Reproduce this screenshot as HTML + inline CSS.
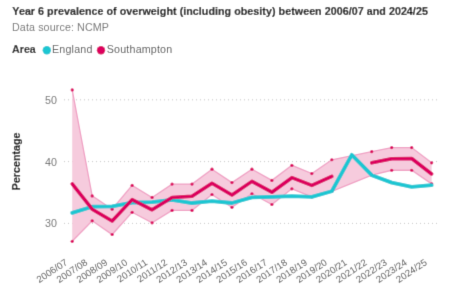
<!DOCTYPE html>
<html><head><meta charset="utf-8"><style>
html,body{margin:0;padding:0;background:#fff;width:449px;height:305px;overflow:hidden}
svg{display:block;font-family:'Liberation Sans', sans-serif}
</style></head><body>
<svg width="449" height="305" viewBox="0 0 449 305"><defs><filter id="bl" x="0" y="0" width="100%" height="100%" filterUnits="userSpaceOnUse"><feConvolveMatrix order="3" kernelMatrix="0 1 0 1 6 1 0 1 0" divisor="10" edgeMode="duplicate" preserveAlpha="true"/></filter></defs><g filter="url(#bl)"><rect width="449" height="305" fill="#fff"/>
<text x="12.3" y="15.1" font-size="10.7" font-weight="bold" fill="#1e1e1e" stroke="#1e1e1e" stroke-width="0.2" letter-spacing="0.05">Year 6 prevalence of overweight (including obesity) between 2006/07 and 2024/25</text>
<text x="12" y="30.8" font-size="10.7" fill="#737373" letter-spacing="0.12">Data source: NCMP</text>
<text x="12" y="52.7" font-size="10.7" font-weight="bold" fill="#262626" stroke="#262626" stroke-width="0.15">Area</text>
<circle cx="46.8" cy="50.3" r="4.2" fill="#1ac6d2"/>
<text x="52" y="52.7" font-size="10.7" fill="#595959" letter-spacing="0.2">England</text>
<circle cx="101" cy="50.2" r="4.2" fill="#dc005f"/>
<text x="106.8" y="52.7" font-size="10.7" fill="#595959" letter-spacing="0.18">Southampton</text>
<line x1="64" x2="438" y1="99.80" y2="99.80" stroke="#c4c4c4" stroke-width="1" stroke-dasharray="1,3"/>
<line x1="64" x2="438" y1="161.60" y2="161.60" stroke="#c4c4c4" stroke-width="1" stroke-dasharray="1,3"/>
<line x1="64" x2="438" y1="223.40" y2="223.40" stroke="#c4c4c4" stroke-width="1" stroke-dasharray="1,3"/>
<polygon points="72.20,89.91 92.17,195.90 112.14,209.19 132.11,185.39 152.08,197.44 172.05,184.10 192.02,184.10 211.99,169.20 231.96,182.61 251.93,169.20 271.90,180.39 291.87,165.31 311.84,173.59 331.81,159.75 371.75,151.71 391.72,147.57 411.69,147.57 431.66,162.84 431.66,183.85 411.69,170.25 391.72,170.25 371.75,175.20 331.81,191.26 311.84,196.83 291.87,188.79 271.90,204.49 251.93,193.74 231.96,207.33 211.99,194.60 192.02,210.42 172.05,210.42 152.08,222.78 132.11,212.28 112.14,234.52 92.17,220.80 72.20,241.32" fill="#f6cbdd" stroke="none"/>
<polyline points="72.20,89.91 92.17,195.90 112.14,209.19 132.11,185.39 152.08,197.44 172.05,184.10 192.02,184.10 211.99,169.20 231.96,182.61 251.93,169.20 271.90,180.39 291.87,165.31 311.84,173.59 331.81,159.75 371.75,151.71 391.72,147.57 411.69,147.57 431.66,162.84" fill="none" stroke="#f0a0c4" stroke-width="1.3"/>
<polyline points="431.66,183.85 411.69,170.25 391.72,170.25 371.75,175.20 331.81,191.26 311.84,196.83 291.87,188.79 271.90,204.49 251.93,193.74 231.96,207.33 211.99,194.60 192.02,210.42 172.05,210.42 152.08,222.78 132.11,212.28 112.14,234.52 92.17,220.80 72.20,241.32" fill="none" stroke="#f0a0c4" stroke-width="1.3"/>
<circle cx="72.20" cy="89.91" r="1.6" fill="#dc005f"/>
<circle cx="72.20" cy="241.32" r="1.6" fill="#dc005f"/>
<circle cx="92.17" cy="195.90" r="1.6" fill="#dc005f"/>
<circle cx="92.17" cy="220.80" r="1.6" fill="#dc005f"/>
<circle cx="112.14" cy="209.19" r="1.6" fill="#dc005f"/>
<circle cx="112.14" cy="234.52" r="1.6" fill="#dc005f"/>
<circle cx="132.11" cy="185.39" r="1.6" fill="#dc005f"/>
<circle cx="132.11" cy="212.28" r="1.6" fill="#dc005f"/>
<circle cx="152.08" cy="197.44" r="1.6" fill="#dc005f"/>
<circle cx="152.08" cy="222.78" r="1.6" fill="#dc005f"/>
<circle cx="172.05" cy="184.10" r="1.6" fill="#dc005f"/>
<circle cx="172.05" cy="210.42" r="1.6" fill="#dc005f"/>
<circle cx="192.02" cy="184.10" r="1.6" fill="#dc005f"/>
<circle cx="192.02" cy="210.42" r="1.6" fill="#dc005f"/>
<circle cx="211.99" cy="169.20" r="1.6" fill="#dc005f"/>
<circle cx="211.99" cy="194.60" r="1.6" fill="#dc005f"/>
<circle cx="231.96" cy="182.61" r="1.6" fill="#dc005f"/>
<circle cx="231.96" cy="207.33" r="1.6" fill="#dc005f"/>
<circle cx="251.93" cy="169.20" r="1.6" fill="#dc005f"/>
<circle cx="251.93" cy="193.74" r="1.6" fill="#dc005f"/>
<circle cx="271.90" cy="180.39" r="1.6" fill="#dc005f"/>
<circle cx="271.90" cy="204.49" r="1.6" fill="#dc005f"/>
<circle cx="291.87" cy="165.31" r="1.6" fill="#dc005f"/>
<circle cx="291.87" cy="188.79" r="1.6" fill="#dc005f"/>
<circle cx="311.84" cy="173.59" r="1.6" fill="#dc005f"/>
<circle cx="311.84" cy="196.83" r="1.6" fill="#dc005f"/>
<circle cx="331.81" cy="159.75" r="1.6" fill="#dc005f"/>
<circle cx="331.81" cy="191.26" r="1.6" fill="#dc005f"/>
<circle cx="371.75" cy="151.71" r="1.6" fill="#dc005f"/>
<circle cx="371.75" cy="175.20" r="1.6" fill="#dc005f"/>
<circle cx="391.72" cy="147.57" r="1.6" fill="#dc005f"/>
<circle cx="391.72" cy="170.25" r="1.6" fill="#dc005f"/>
<circle cx="411.69" cy="147.57" r="1.6" fill="#dc005f"/>
<circle cx="411.69" cy="170.25" r="1.6" fill="#dc005f"/>
<circle cx="431.66" cy="162.84" r="1.6" fill="#dc005f"/>
<circle cx="431.66" cy="183.85" r="1.6" fill="#dc005f"/>
<polyline points="72.20,212.89 92.17,206.71 112.14,206.41 132.11,202.70 152.08,202.08 172.05,199.92 192.02,203.01 211.99,201.15 231.96,203.01 251.93,197.44 271.90,196.83 291.87,196.21 311.84,196.83 331.81,191.26 351.78,154.80 371.75,175.20 391.72,182.61 411.69,186.94 431.66,185.08" fill="none" stroke="#1ac6d2" stroke-width="3.8" stroke-linejoin="round" stroke-linecap="round"/>
<polyline points="72.20,183.85 92.17,209.19 112.14,220.93 132.11,199.61 152.08,209.80 172.05,197.44 192.02,196.21 211.99,183.23 231.96,194.97 251.93,181.38 271.90,192.19 291.87,177.67 311.84,185.39 331.81,176.43" fill="none" stroke="#dc005f" stroke-width="3.6" stroke-linejoin="round" stroke-linecap="round"/>
<polyline points="371.75,162.84 391.72,158.82 411.69,158.51 431.66,173.96" fill="none" stroke="#dc005f" stroke-width="3.6" stroke-linejoin="round" stroke-linecap="round"/>
<text x="57" y="103.80" text-anchor="end" font-size="10.7" fill="#707070">50</text>
<text x="57" y="165.60" text-anchor="end" font-size="10.7" fill="#707070">40</text>
<text x="57" y="227.40" text-anchor="end" font-size="10.7" fill="#707070">30</text>
<text transform="translate(20,161.4) rotate(-90)" text-anchor="middle" font-size="10.7" font-weight="bold" fill="#1a1a1a" stroke="#1a1a1a" stroke-width="0.2">Percentage</text>
<text transform="translate(68.20,264) rotate(-33.5)" text-anchor="end" font-size="9.6" fill="#505050">2006/07</text>
<text transform="translate(88.17,264) rotate(-33.5)" text-anchor="end" font-size="9.6" fill="#505050">2007/08</text>
<text transform="translate(108.14,264) rotate(-33.5)" text-anchor="end" font-size="9.6" fill="#505050">2008/09</text>
<text transform="translate(128.11,264) rotate(-33.5)" text-anchor="end" font-size="9.6" fill="#505050">2009/10</text>
<text transform="translate(148.08,264) rotate(-33.5)" text-anchor="end" font-size="9.6" fill="#505050">2010/11</text>
<text transform="translate(168.05,264) rotate(-33.5)" text-anchor="end" font-size="9.6" fill="#505050">2011/12</text>
<text transform="translate(188.02,264) rotate(-33.5)" text-anchor="end" font-size="9.6" fill="#505050">2012/13</text>
<text transform="translate(207.99,264) rotate(-33.5)" text-anchor="end" font-size="9.6" fill="#505050">2013/14</text>
<text transform="translate(227.96,264) rotate(-33.5)" text-anchor="end" font-size="9.6" fill="#505050">2014/15</text>
<text transform="translate(247.93,264) rotate(-33.5)" text-anchor="end" font-size="9.6" fill="#505050">2015/16</text>
<text transform="translate(267.90,264) rotate(-33.5)" text-anchor="end" font-size="9.6" fill="#505050">2016/17</text>
<text transform="translate(287.87,264) rotate(-33.5)" text-anchor="end" font-size="9.6" fill="#505050">2017/18</text>
<text transform="translate(307.84,264) rotate(-33.5)" text-anchor="end" font-size="9.6" fill="#505050">2018/19</text>
<text transform="translate(327.81,264) rotate(-33.5)" text-anchor="end" font-size="9.6" fill="#505050">2019/20</text>
<text transform="translate(347.78,264) rotate(-33.5)" text-anchor="end" font-size="9.6" fill="#505050">2020/21</text>
<text transform="translate(367.75,264) rotate(-33.5)" text-anchor="end" font-size="9.6" fill="#505050">2021/22</text>
<text transform="translate(387.72,264) rotate(-33.5)" text-anchor="end" font-size="9.6" fill="#505050">2022/23</text>
<text transform="translate(407.69,264) rotate(-33.5)" text-anchor="end" font-size="9.6" fill="#505050">2023/24</text>
<text transform="translate(427.66,264) rotate(-33.5)" text-anchor="end" font-size="9.6" fill="#505050">2024/25</text>
</g></svg>
</body></html>
